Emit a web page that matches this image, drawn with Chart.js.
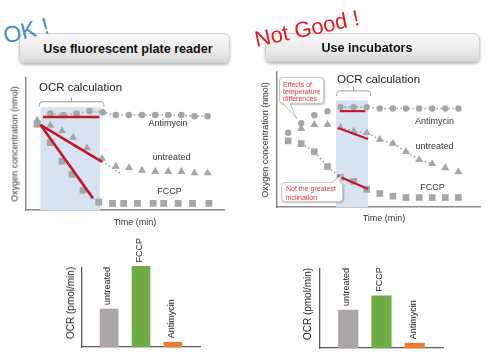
<!DOCTYPE html>
<html><head><meta charset="utf-8">
<script src="https://cdn.jsdelivr.net/npm/chart.js@4.4.1/dist/chart.umd.min.js"></script>
<style>
html,body{margin:0;padding:0;background:#fff;}
body{width:500px;height:355px;position:relative;overflow:hidden;font-family:"Liberation Sans",Arial,sans-serif;}
canvas{position:absolute;}
.t{position:absolute;white-space:nowrap;transform:translate(-50%,-50%);line-height:1;color:#1a1a1a;}
.rot{transform:translate(-50%,-50%) rotate(-90deg);}
.box{position:absolute;box-sizing:border-box;border:1px solid #d0d0d0;border-radius:6px;background:linear-gradient(#f8f8f8,#ececec 55%,#d9d9d9);box-shadow:0 2px 3px rgba(0,0,0,.28);font-weight:bold;font-size:12.6px;color:#111;display:flex;align-items:center;justify-content:center;}
.call{position:absolute;box-sizing:border-box;border:1px solid #c9c9c9;border-radius:4px;background:#fff;box-shadow:1px 1px 2px rgba(0,0,0,.25);color:#e2333f;font-size:7px;white-space:nowrap;}
svg{position:absolute;left:0;top:0;}
</style></head><body>

<canvas id="cL" width="235" height="160" style="left:0;top:70px"></canvas>
<canvas id="cR" width="240" height="165" style="left:250px;top:60px"></canvas>
<canvas id="bL" width="160" height="120" style="left:60px;top:235px"></canvas>
<canvas id="bR" width="170" height="120" style="left:290px;top:235px"></canvas>

<div class="box" style="left:19px;top:33px;width:211px;height:30px;padding-left:7px;padding-top:2px">Use fluorescent plate reader</div>
<div class="box" style="left:265px;top:33px;width:215px;height:29px;padding-right:11px;padding-top:1px">Use incubators</div>
<div class="t" style="left:26px;top:31px;font-size:23px;color:#3e8fd2;transform:translate(-50%,-50%) rotate(-14deg)">OK !</div>
<div class="t" style="left:307px;top:29px;font-size:22px;color:#e5161e;transform:translate(-50%,-50%) rotate(-12deg)">Not Good !</div>

<div class="t" style="left:80.5px;top:88px;font-size:11.5px;color:#222">OCR calculation</div>
<div class="t" style="left:378.5px;top:80px;font-size:11.5px;color:#222">OCR calculation</div>

<div class="t" style="left:168px;top:123px;font-size:9px;color:#333">Antimycin</div>
<div class="t" style="left:171.5px;top:157px;font-size:9px;color:#333">untreated</div>
<div class="t" style="left:169.5px;top:191px;font-size:9px;color:#333">FCCP</div>
<div class="t" style="left:434.5px;top:121px;font-size:9px;color:#333">Antimycin</div>
<div class="t" style="left:434.5px;top:146px;font-size:9px;color:#333">untreated</div>
<div class="t" style="left:432.5px;top:187px;font-size:9px;color:#333">FCCP</div>

<div class="t" style="left:135px;top:222px;font-size:9px;color:#333">Time (min)</div>
<div class="t" style="left:384px;top:217.5px;font-size:9px;color:#333">Time (min)</div>
<div class="t rot" style="left:15px;top:144px;font-size:9px;color:#333">Oxygen concentration (nmol)</div>
<div class="t rot" style="left:265px;top:140px;font-size:9px;color:#333">Oxygen concentration (nmol)</div>
<div class="t rot" style="left:71px;top:302.5px;font-size:10px;color:#222">OCR (pmol/min)</div>
<div class="t rot" style="left:308px;top:304px;font-size:10px;color:#222">OCR (pmol/min)</div>

<div class="call" style="left:279px;top:77px;width:45px;height:27px;padding:2.5px 0 0 3px;line-height:7px">Effects of<br>temperature<br>differences</div>
<div class="call" style="left:281px;top:182px;width:62px;height:20px;padding:0.5px 0 0 4px;line-height:9.5px">Not the greatest<br>inclination</div>
<svg width="500" height="355">
  <polygon points="283,102.5 290,102.5 297,119" fill="#fff"/>
  <polyline points="283,103.5 297,119 290,103.5" fill="none" stroke="#c4c4c4" stroke-width="1"/>
  <polygon points="332,183 339,183 342,175" fill="#fff"/>
  <polyline points="332,182 342,175 339,182" fill="none" stroke="#c4c4c4" stroke-width="1"/>
</svg>

<script>
// ---------- data: left chart (fluorescent plate reader) ----------
const leftAntimycinTime = [4,6,8,10,12,14,16,18,20,22,24,26,28];
const leftAntimycin     = [73,72,73,75,74,72,72,72,72,72,72,71,71];
const leftUntreatedTime = [2,4,5.8,7.5,9.6,11.9,14,16,18,20,22,24,26,28];
const leftUntreated     = [68,64,60,55,47,39,33,32,30,29,29,29,28,28];
const leftFccpTime      = [2,4,5.8,7.3,9,11.4,13.5,15.2,17.3,19.7,21.3,23.5,25.7,28.2];
const leftFccp          = [65,51,37,27,15,6,5,5,5,5,5,5,5,5];
const leftFitAntiT = [2.9,11.5],  leftFitAnti = [70.5,70.5];
const leftFitUntrT = [2.5,11.9],  leftFitUntr = [64.5,36.5];
const leftFitFccpT = [2.5,10.5],  leftFitFccp = [64.5,9];
const leftExtUntrT = [11.9,14.7], leftExtUntr = [37,27.5];
const leftExtFccpT = [10.5,11.5], leftExtFccp = [9,4.5];
const leftWindow = [2.5,11.6], leftWindowTop = 78;
const leftBracket = [2.3,12.2,82];

// ---------- data: right chart (incubators) ----------
const rightTime          = [2,4,6,8,10,12,14,16,18,20,22,24,26,28];
const rightAntimycin     = [55,62,68,71,74,74,74,73,73,73,73,73,73,73];
const rightUntreatedTime = [4,6,8,10,12,14,16,18,20,22,24,26,28];
const rightUntreated     = [58,61,61,59,56,55,50,47,41,35,32,29,26];
const rightFccp          = [49,47,41,30,22,19,13,10,8,7,7,7,7,7];
const rightFitAntiT = [9.9,13.8], rightFitAnti = [71,71];
const rightFitUntrT = [9.6,14.2], rightFitUntr = [58.5,50.4];
const rightFitFccpT = [9.6,14.2], rightFitFccp = [23,13.3];
const rightWindow = [9.3,14.2], rightWindowTop = 79;
const rightBracket = [9.4,14.6,86];

// ---------- data: OCR bars ----------
const barCategories = ['untreated','FCCP','Antimycin'];
const ocrLeft  = [48,102,6];
const ocrRight = [48,66,6];

const pts = (xs, ys) => xs.map((x,i)=>({x:x, y:ys[i]}));
const GREY='#a6a6a6', RED='#c3172b', DOT='#86a9d4';

function fit(data,w){return {data, borderColor:RED, borderWidth:w, pointRadius:0, fill:false, order:0};}
function marks(data,style,r){return {data, showLine:false, pointStyle:style, pointRadius:r, pointBackgroundColor:GREY, pointBorderWidth:0, borderColor:GREY, order:1};}
function dots(data){return {data, borderColor:DOT, borderWidth:1.6, borderDash:[1.6,2.4], pointRadius:0, fill:false, order:2};}

function windowPlugin(win, top, br){
  return {id:'ocrWindow', beforeDatasetsDraw(chart){
    const {ctx, chartArea, scales:{x,y}} = chart;
    const x0=x.getPixelForValue(win[0]), x1=x.getPixelForValue(win[1]), yt=y.getPixelForValue(top);
    ctx.save();
    ctx.fillStyle='#d8e3f1';
    ctx.fillRect(x0,yt,x1-x0,chartArea.bottom-yt);
    const b0=x.getPixelForValue(br[0]), b1=x.getPixelForValue(br[1]), by=y.getPixelForValue(br[2]);
    const bm=(b0+b1)/2;
    ctx.strokeStyle='#9b9b9b'; ctx.lineWidth=1; ctx.lineJoin='round';
    ctx.beginPath();
    ctx.moveTo(b0,by+5); ctx.quadraticCurveTo(b0,by,b0+3,by);
    ctx.lineTo(b1-3,by); ctx.quadraticCurveTo(b1,by,b1,by+5);
    ctx.moveTo(bm,by); ctx.lineTo(bm,by-4);
    ctx.stroke();
    ctx.restore();
  }};
}

function axisScale(min,max){
  return {type:'linear', min, max, offset:false, ticks:{display:false},
    grid:{display:false, drawTicks:false}, border:{display:true, color:'#8a8a8a', width:1.5}};
}
function lineOptions(xmax,pad){
  return {responsive:false, animation:false, events:[], layout:{padding:pad},
    plugins:{legend:{display:false}, tooltip:{enabled:false}},
    elements:{line:{tension:0}},
    scales:{x:axisScale(0.3,xmax), y:axisScale(0,100)}};
}

new Chart(document.getElementById('cL'), {
  type:'line',
  data:{datasets:[
    fit(pts(leftFitAntiT,leftFitAnti),2.6),
    fit(pts(leftFitUntrT,leftFitUntr),2.6),
    fit(pts(leftFitFccpT,leftFitFccp),2.6),
    marks(pts(leftAntimycinTime,leftAntimycin),'circle',3.3),
    marks(pts(leftUntreatedTime,leftUntreated),'triangle',4.6),
    marks(pts(leftFccpTime,leftFccp),'rect',4.8),
    dots(pts(leftAntimycinTime,leftAntimycin)),
    dots(pts(leftExtUntrT,leftExtUntr)),
    dots(pts(leftExtFccpT,leftExtFccp))
  ]},
  options:lineOptions(30.5,{left:26,top:8,right:11,bottom:20}),
  plugins:[windowPlugin(leftWindow,leftWindowTop,leftBracket)]
});

new Chart(document.getElementById('cR'), {
  type:'line',
  data:{datasets:[
    fit(pts(rightFitAntiT,rightFitAnti),2.2),
    fit(pts(rightFitUntrT,rightFitUntr),2.2),
    fit(pts(rightFitFccpT,rightFitFccp),2.2),
    marks(pts(rightTime,rightAntimycin),'circle',3.2),
    marks(pts(rightUntreatedTime,rightUntreated),'triangle',4.6),
    marks(pts(rightTime,rightFccp),'rect',4.7),
    dots(pts(rightTime.slice(4),rightAntimycin.slice(4))),
    dots(pts(rightUntreatedTime.slice(3,11),rightUntreated.slice(3,11))),
    dots(pts(rightTime.slice(1,6),rightFccp.slice(1,6)))
  ]},
  options:lineOptions(31.3,{left:27,top:12,right:10,bottom:18}),
  plugins:[windowPlugin(rightWindow,rightWindowTop,rightBracket)]
});

const barLabelPlugin = {id:'barLabels', afterDatasetsDraw(chart){
  const {ctx} = chart;
  chart.getDatasetMeta(0).data.forEach((el,i)=>{
    ctx.save();
    ctx.translate(el.x-1.5, el.y-4);
    ctx.rotate(-Math.PI/2);
    ctx.font='9px "Liberation Sans", Arial, sans-serif';
    ctx.fillStyle='#222'; ctx.textAlign='left'; ctx.textBaseline='middle';
    ctx.fillText(chart.data.labels[i],0,0);
    ctx.restore();
  });
}};

function barChart(id, values, thickness, pad){
  const bax = (min,max)=>({type:'linear', min, max, offset:false, ticks:{display:false},
    grid:{display:false, drawTicks:false}, border:{display:true, color:'#5a5a5a', width:1.3}});
  new Chart(document.getElementById(id), {
    type:'bar',
    data:{labels:barCategories, datasets:[{
      data: values.map((v,i)=>({x:i, y:v})),
      backgroundColor:['#aaa6a6','#6fac46','#ed7d31'],
      barThickness:thickness, clip:false, borderWidth:0
    }]},
    options:{responsive:false, animation:false, events:[], layout:{padding:pad},
      plugins:{legend:{display:false}, tooltip:{enabled:false}},
      scales:{x:bax(-0.85,2.85), y:bax(0,100)}},
    plugins:[barLabelPlugin]
  });
}
barChart('bL', ocrLeft, 18, {left:22,top:33,right:20,bottom:8});
barChart('bR', ocrRight, 19.5, {left:30,top:34,right:17,bottom:7});
</script>
</body></html>
